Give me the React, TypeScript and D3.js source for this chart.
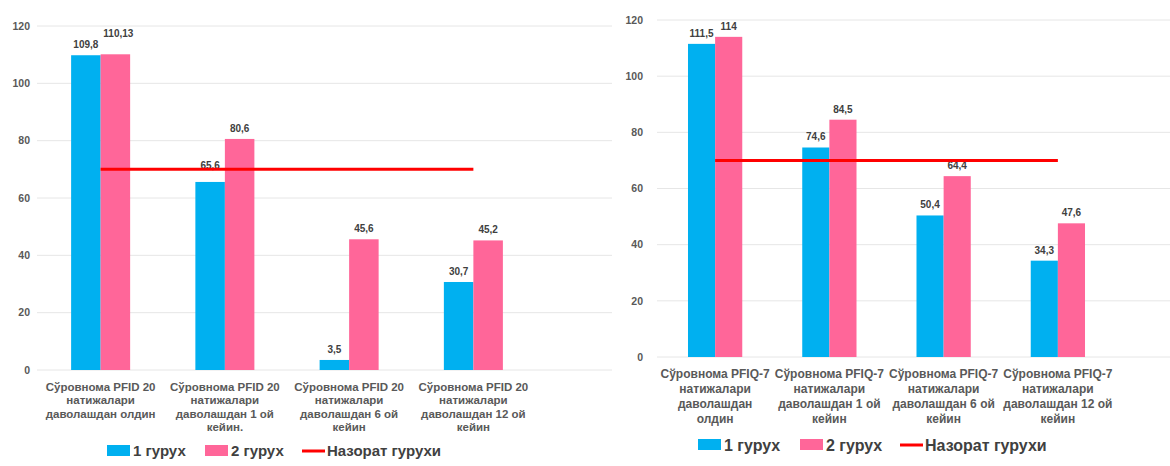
import * as React from 'react';
import * as d3 from 'd3';

// left panel (PFID 20)
const leftCategories = ['pfid0', 'pfid1', 'pfid6', 'pfid12'];
const leftLabels = [
  ['Сўровнома PFID 20', 'натижалари', 'даволашдан олдин'],
  ['Сўровнома PFID 20', 'натижалари', 'даволашдан 1 ой', 'кейин.'],
  ['Сўровнома PFID 20', 'натижалари', 'даволашдан 6 ой', 'кейин'],
  ['Сўровнома PFID 20', 'натижалари', 'даволашдан 12 ой', 'кейин'],
];
const leftGroup1 = [109.8, 65.6, 3.5, 30.7];
const leftGroup2 = [110.13, 80.6, 45.6, 45.2];
const leftGroup1Text = ['109,8', '65,6', '3,5', '30,7'];
const leftGroup2Text = ['110,13', '80,6', '45,6', '45,2'];

// right panel (PFIQ-7)
const rightCategories = ['pfiq0', 'pfiq1', 'pfiq6', 'pfiq12'];
const rightLabels = [
  ['Сўровнома PFIQ-7', 'натижалари', 'даволашдан', 'олдин'],
  ['Сўровнома PFIQ-7', 'натижалари', 'даволашдан 1 ой', 'кейин'],
  ['Сўровнома PFIQ-7', 'натижалари', 'даволашдан 6 ой', 'кейин'],
  ['Сўровнома PFIQ-7', 'натижалари', 'даволашдан 12 ой', 'кейин'],
];
const rightGroup1 = [111.5, 74.6, 50.4, 34.3];
const rightGroup2 = [114, 84.5, 64.4, 47.6];
const rightGroup1Text = ['111,5', '74,6', '50,4', '34,3'];
const rightGroup2Text = ['114', '84,5', '64,4', '47,6'];

const controlValue = 70;
const yTicks = [0, 20, 40, 60, 80, 100, 120];
const legendNames = ['1 гурух', '2 гурух', 'Назорат гурухи'];

const BLUE = '#00B0F0';
const PINK = '#FF6699';
const RED = '#FF0000';
const TEXT = '#404040';
const FONT = '"Liberation Sans", Arial, sans-serif';

type PanelProps = {
  categories: string[];
  labels: string[][];
  g1: number[];
  g2: number[];
  g1Text: string[];
  g2Text: string[];
  x0: number;
  x1: number;
  yTop: number;
  yBottom: number;
  gridFrom: number;
  gridTo: number;
  tickRight: number;
  catFont: number;
  catLine: number;
  catY: number;
  legendY: number;
  legendX: number[];
  legendFont: number;
  nudge: { [key: string]: [number, number] };
};

function Panel(p: PanelProps) {
  const x = d3
    .scaleBand<string>()
    .domain(p.categories)
    .range([p.x0, p.x1])
    .paddingInner(0.525)
    .paddingOuter(0.2625);
  const sub = d3.scaleBand<string>().domain(['g1', 'g2']).range([0, x.bandwidth()]);
  const y = d3.scaleLinear().domain([0, 120]).range([p.yBottom, p.yTop]);
  const center = (c: string) => (x(c) as number) + x.bandwidth() / 2;

  const series = [
    { key: 'g1', values: p.g1, text: p.g1Text, color: BLUE },
    { key: 'g2', values: p.g2, text: p.g2Text, color: PINK },
  ];

  const first = center(p.categories[0]);
  const last = center(p.categories[p.categories.length - 1]);

  return (
    <g fontFamily={FONT}>
      {yTicks.map((t) => (
        <g key={t}>
          <line x1={p.gridFrom} x2={p.gridTo} y1={y(t)} y2={y(t)} stroke="#e6e6e6" strokeWidth={1} />
          <text
            x={p.tickRight}
            y={y(t)}
            dy="0.35em"
            textAnchor="end"
            fontSize={10.5}
            fontWeight="bold"
            fill="#595959"
          >
            {t}
          </text>
        </g>
      ))}
      {series.map((s) =>
        p.categories.map((c, i) => {
          const bx = (x(c) as number) + (sub(s.key) as number);
          const n = p.nudge[s.key + i] || [0, 0];
          return (
            <g key={s.key + c}>
              <rect
                x={bx}
                y={y(s.values[i])}
                width={sub.bandwidth()}
                height={y(0) - y(s.values[i])}
                fill={s.color}
              />
              <text
                x={bx + sub.bandwidth() / 2 + n[0]}
                y={y(s.values[i]) - 7 + n[1]}
                textAnchor="middle"
                fontSize={10}
                fontWeight="bold"
                fill={TEXT}
              >
                {s.text[i]}
              </text>
            </g>
          );
        })
      )}
      <line x1={first} x2={last} y1={y(controlValue)} y2={y(controlValue)} stroke={RED} strokeWidth={3} />
      {p.categories.map((c, i) => (
        <text
          key={'cat' + c}
          x={center(c)}
          y={p.catY}
          textAnchor="middle"
          fontSize={p.catFont}
          fontWeight="bold"
          fill="#595959"
        >
          {p.labels[i].map((line, j) => (
            <tspan key={j} x={center(c)} dy={j === 0 ? 0 : p.catLine}>
              {line}
            </tspan>
          ))}
        </text>
      ))}
      <g fontSize={p.legendFont} fontWeight="bold" fill={TEXT}>
        <rect x={p.legendX[0]} y={p.legendY - 6} width={23} height={11} fill={BLUE} />
        <text x={p.legendX[0] + 26} y={p.legendY} dy="0.35em">
          {legendNames[0]}
        </text>
        <rect x={p.legendX[1]} y={p.legendY - 6} width={23} height={11} fill={PINK} />
        <text x={p.legendX[1] + 26} y={p.legendY} dy="0.35em">
          {legendNames[1]}
        </text>
        <line
          x1={p.legendX[2]}
          x2={p.legendX[2] + 23}
          y1={p.legendY}
          y2={p.legendY}
          stroke={RED}
          strokeWidth={3}
        />
        <text x={p.legendX[2] + 25} y={p.legendY} dy="0.35em">
          {legendNames[2]}
        </text>
      </g>
    </g>
  );
}

export default function App() {
  return (
    <svg
      width={1170}
      height={466}
      style={{ position: 'absolute', left: 0, top: 0, background: '#fff' }}
    >
      <rect width={1170} height={466} fill="#fff" />
      <Panel
        categories={leftCategories}
        labels={leftLabels}
        g1={leftGroup1}
        g2={leftGroup2}
        g1Text={leftGroup1Text}
        g2Text={leftGroup2Text}
        x0={38.5}
        x1={535.5}
        yTop={26}
        yBottom={370}
        gridFrom={37}
        gridTo={612}
        tickRight={30}
        catFont={11.5}
        catLine={13.3}
        catY={391}
        legendY={451}
        legendX={[107, 205, 302]}
        legendFont={15}
        nudge={{ g20: [3, -10], g11: [0, -6] }}
      />
      <rect x={613} y={0} width={557} height={466} fill="#fff" />
      <Panel
        categories={rightCategories}
        labels={rightLabels}
        g1={rightGroup1}
        g2={rightGroup2}
        g1Text={rightGroup1Text}
        g2Text={rightGroup2Text}
        x0={658}
        x1={1115}
        yTop={20}
        yBottom={357}
        gridFrom={657}
        gridTo={1170}
        tickRight={643}
        catFont={12}
        catLine={15}
        catY={378}
        legendY={445}
        legendX={[698, 800, 900]}
        legendFont={16}
        nudge={{}}
      />
    </svg>
  );
}
